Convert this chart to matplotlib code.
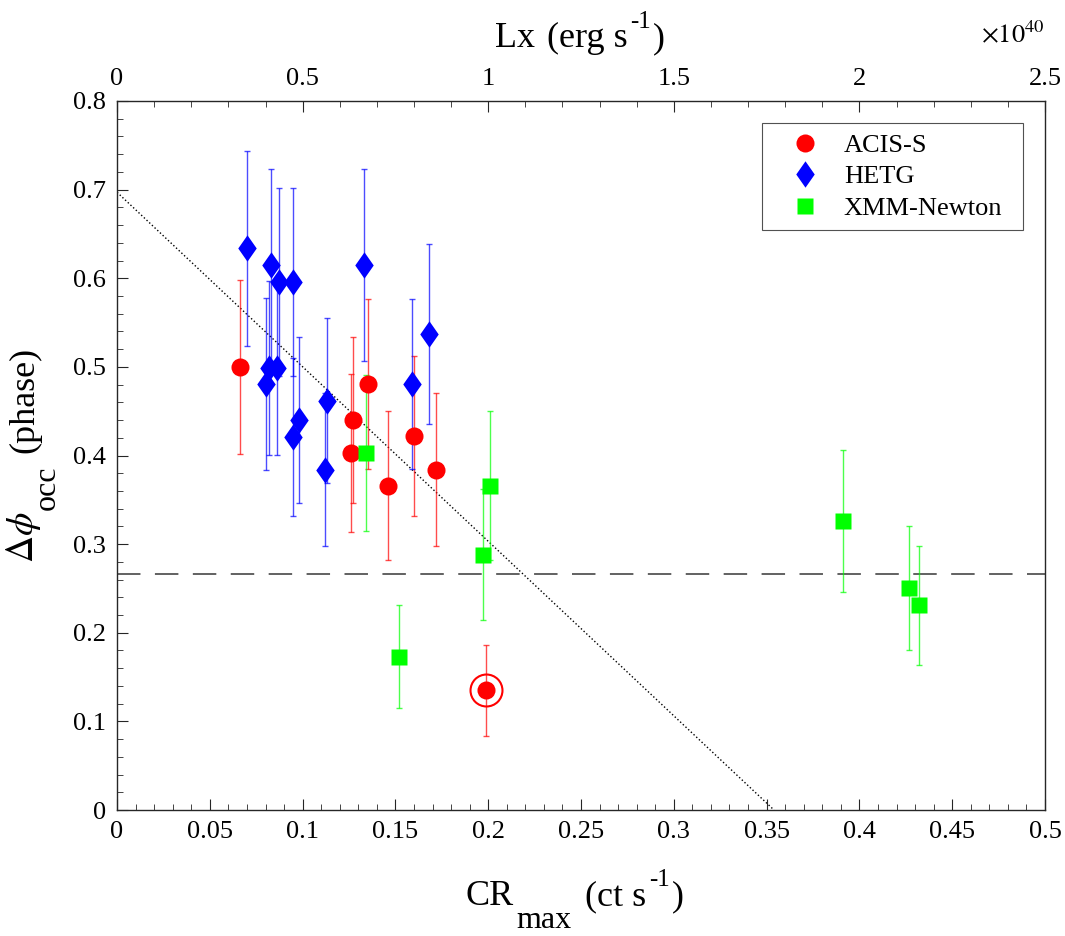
import numpy as np
import matplotlib
matplotlib.use("Agg")
import matplotlib.pyplot as plt
from matplotlib.ticker import MultipleLocator, FuncFormatter
from matplotlib.transforms import IdentityTransform

SERIF = ["Liberation Serif", "DejaVu Serif"]
plt.rcParams["font.family"] = "serif"
plt.rcParams["font.serif"] = SERIF
plt.rcParams["mathtext.fontset"] = "stix"

# === Data ===
acis_cr = [0.066, 0.126, 0.127, 0.135, 0.146, 0.160, 0.172, 0.199]
acis_dphi = [0.500, 0.403, 0.440, 0.481, 0.366, 0.422, 0.384, 0.135]
acis_err = [0.098, 0.089, 0.094, 0.096, 0.084, 0.090, 0.086, 0.051]
highlight_idx = 7

hetg_cr = [0.070, 0.083, 0.087, 0.095, 0.133, 0.168, 0.082, 0.086,
           0.080, 0.113, 0.098, 0.095, 0.159, 0.112]
hetg_dphi = [0.634, 0.615, 0.596, 0.596, 0.615, 0.537, 0.499, 0.499,
             0.481, 0.462, 0.440, 0.421, 0.481, 0.384]
hetg_err = [0.110, 0.108, 0.106, 0.106, 0.108, 0.102, 0.098, 0.098,
            0.097, 0.093, 0.094, 0.089, 0.096, 0.086]

xmm_cr = [0.134, 0.152, 0.197, 0.201, 0.391, 0.427, 0.432]
xmm_dphi = [0.403, 0.173, 0.288, 0.366, 0.326, 0.250, 0.231]
xmm_err = [0.088, 0.058, 0.074, 0.084, 0.080, 0.070, 0.067]

mean_dphi = 0.266
fit_x = [0.0, 0.354]
fit_y = [0.697, 0.0]
lx_per_cr = 5e40

axis_col = "#262626"
diamond = [(0, 1), (0.7, 0), (0, -1), (-0.7, 0), (0, 1)]
plain = FuncFormatter(lambda v, p: f"{round(v, 6):g}")


def rich_label(fig, cx, cy, pieces, rotation=0):
    """Draw a label made of pieces (text, size, baseline shift px, gap px),
    centred on (cx, cy) in pixels, MATLAB-tex style (big sub/superscripts)."""
    renderer = fig.canvas.get_renderer()
    widths = []
    for s, size, dy, gap in pieces:
        t = fig.text(0, 0, s, fontsize=size, family=SERIF,
                     transform=IdentityTransform())
        widths.append(t.get_window_extent(renderer).width)
        t.remove()
    total = sum(widths) + sum(p[3] for p in pieces)
    if rotation == 90:
        u, v = np.array([0.0, 1.0]), np.array([-1.0, 0.0])
    else:
        u, v = np.array([1.0, 0.0]), np.array([0.0, 1.0])
    origin = np.array([cx, cy]) - u * total / 2
    run = 0.0
    for (s, size, dy, gap), w in zip(pieces, widths):
        run += gap
        x, y = origin + u * run + v * dy
        fig.text(x, y, s, fontsize=size, family=SERIF, rotation=rotation,
                 rotation_mode="anchor", ha="left", va="baseline",
                 color="black", transform=IdentityTransform())
        run += w


fig = plt.figure(figsize=(10.65, 9.36), dpi=100)
ax = fig.add_axes([0.1099, 0.1346, 0.8713, 0.7575])

ax.axhline(mean_dphi, color="#555555", lw=1.3, dashes=(13, 8), zorder=1)
ax.plot(fit_x, fit_y, color="black", lw=1.0, ls=":", zorder=1)

ax.errorbar(acis_cr, acis_dphi, yerr=acis_err, fmt="none", ecolor="#ff0000",
            elinewidth=1.0, capsize=2.5, capthick=1.0, alpha=0.7, zorder=2)
ax.errorbar(hetg_cr, hetg_dphi, yerr=hetg_err, fmt="none", ecolor="#0000ff",
            elinewidth=1.0, capsize=2.5, capthick=1.0, alpha=0.7, zorder=2)
ax.errorbar(xmm_cr, xmm_dphi, yerr=xmm_err, fmt="none", ecolor="#00ff00",
            elinewidth=1.0, capsize=2.5, capthick=1.0, alpha=0.7, zorder=2)

ax.plot(acis_cr, acis_dphi, "o", color="#ff0000", ms=13, mec="none",
        label="ACIS-S", zorder=3)
ax.plot(hetg_cr, hetg_dphi, ls="none", marker=diamond, color="#0000ff",
        ms=19, mec="none", label="HETG", zorder=3)
ax.plot(xmm_cr, xmm_dphi, "s", color="#00ff00", ms=11, mec="none",
        label="XMM-Newton", zorder=3)
ax.plot(acis_cr[highlight_idx], acis_dphi[highlight_idx], "o", mfc="none",
        mec="#ff0000", mew=1.5, ms=23, zorder=3)

ax.set_xlim(0, 0.5)
ax.set_ylim(0, 0.8)
ax.xaxis.set_major_locator(MultipleLocator(0.05))
ax.xaxis.set_minor_locator(MultipleLocator(0.01))
ax.yaxis.set_major_locator(MultipleLocator(0.1))
ax.yaxis.set_minor_locator(MultipleLocator(0.02))
ax.xaxis.set_major_formatter(plain)
ax.yaxis.set_major_formatter(plain)
ax.tick_params(which="both", direction="in", colors=axis_col, labelsize=19,
               top=False, right=False, labelcolor="black")
ax.tick_params(which="major", length=8, pad=8)
ax.tick_params(which="minor", length=4)
for lab in ax.get_xticklabels() + ax.get_yticklabels():
    lab.set_family(SERIF)
for sp in ax.spines.values():
    sp.set_color(axis_col)
    sp.set_linewidth(1.0)

# === Top axis in luminosity ===
top = ax.twiny()
top.set_xlim(0, 0.5 * lx_per_cr)
top.xaxis.set_major_locator(MultipleLocator(0.5e40))
top.xaxis.set_minor_locator(MultipleLocator(0.1e40))
top.xaxis.set_major_formatter(FuncFormatter(lambda v, p: f"{round(v / 1e40, 6):g}"))
top.tick_params(which="both", direction="in", colors=axis_col, labelsize=19,
                labelcolor="black")
top.tick_params(which="major", length=8, pad=8)
top.tick_params(which="minor", length=4)
for lab in top.get_xticklabels():
    lab.set_family(SERIF)
top.text(1.0, 1.075, r"$\times10^{40}$", transform=top.transAxes,
         ha="right", va="bottom", fontsize=19, color="black")
for sp in top.spines.values():
    sp.set_visible(False)

leg = ax.legend(loc="upper left", bbox_to_anchor=(0.695, 0.969, 0.281, 0.0),
                mode="expand", borderaxespad=0,
                prop={"family": SERIF, "size": 19}, frameon=True,
                fancybox=False, edgecolor=axis_col, handletextpad=0.2,
                borderpad=0.4, labelspacing=0.3, handlelength=2.5)
leg.get_frame().set_linewidth(0.8)

# === Axis labels (pixel positions from the reference) ===
rich_label(fig, 575, 31, [("CR", 26, 0, 0), ("max", 23, -23, 2),
                          ("(ct s", 26, 0, 14), ("-1", 18, 19, 3),
                          (")", 26, 0, 2)])
rich_label(fig, 580, 889, [("Lx", 26, 0, 0), ("(erg s", 26, 0, 12),
                           ("-1", 18, 19, 3), (")", 26, 0, 2)])
rich_label(fig, 33, 481, [(r"$\Delta\phi$", 27, 0, 0), ("occ", 23, -22, 2),
                          ("(phase)", 26, 0, 12)], rotation=90)

fig.savefig("out.png", dpi=100)
